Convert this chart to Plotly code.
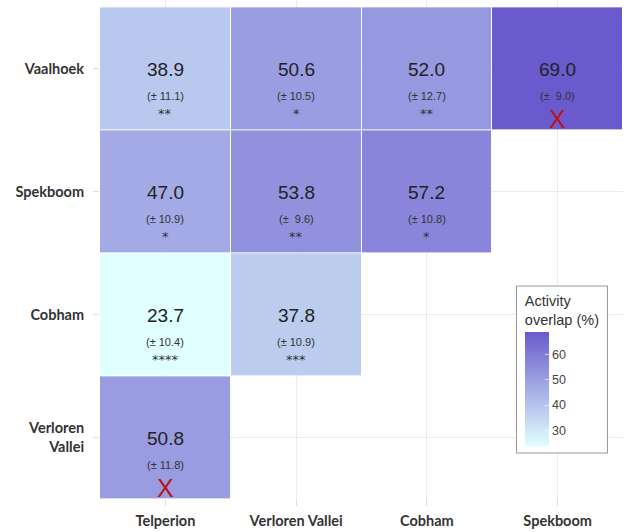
import plotly.graph_objects as go

# ---- data ----
x_labels = ["Telperion", "Verloren Vallei", "Cobham", "Spekboom"]
y_labels = ["Vaalhoek", "Spekboom", "Cobham", "Verloren<br>Vallei"]

# overlap (%) per row (y) and column (x); None = no comparison
overlap = [
    [38.9, 50.6, 52.0, 69.0],
    [47.0, 53.8, 57.2, None],
    [23.7, 37.8, None, None],
    [50.8, None, None, None],
]
sd = [
    [11.1, 10.5, 12.7, 9.0],
    [10.9, 9.6, 10.8, None],
    [10.4, 10.9, None, None],
    [11.8, None, None, None],
]
sig = [
    ["**", "*", "**", "X"],
    ["*", "**", "*", None],
    ["****", "***", None, None],
    ["X", None, None, None],
]

xs = list(range(len(x_labels)))
ys = list(range(len(y_labels)))

fig = go.Figure()
fig.add_trace(go.Heatmap(
    x=xs, y=ys, z=overlap,
    colorscale=[[0, "#E0FFFF"], [1, "#6A5ACD"]],
    zmin=23.7, zmax=69.0,
    xgap=1, ygap=1,
    hoverongaps=False,
    colorbar=dict(
        title=dict(text="Activity<br>overlap (%)", side="top",
                   font=dict(size=14.5, color="#333", family="Liberation Sans")),
        x=0.797, xanchor="left", y=0.094, yanchor="bottom",
        len=166, lenmode="pixels",
        thickness=24, thicknessmode="pixels",
        tickvals=[30, 40, 50, 60],
        ticks="inside", ticklen=4, tickcolor="rgba(255,255,255,0.7)",
        tickfont=dict(size=12.5, color="#444", family="Liberation Sans"),
        outlinewidth=0,
        bgcolor="white", bordercolor="#999", borderwidth=1,
        xpad=8, ypad=6,
    ),
))

annotations = []
for i, row in enumerate(overlap):
    for j, v in enumerate(row):
        if v is None:
            continue
        annotations.append(dict(x=xs[j], y=ys[i], xref="x", yref="y",
                                text=f"{v:.1f}", showarrow=False, yshift=-1,
                                font=dict(size=19, color="#222", family="Liberation Sans")))
        annotations.append(dict(x=xs[j], y=ys[i], xref="x", yref="y",
                                text=f"(± {sd[i][j]:4.1f})", showarrow=False,
                                yshift=-27,
                                font=dict(size=11, color="#333", family="Liberation Sans")))
        s = sig[i][j]
        if s == "X":
            annotations.append(dict(x=xs[j], y=ys[i], xref="x", yref="y",
                                    text="X", showarrow=False, yshift=-50,
                                    font=dict(size=25, color="#B8141A", family="Liberation Sans")))
        elif s:
            annotations.append(dict(x=xs[j], y=ys[i], xref="x", yref="y",
                                    text=s, showarrow=False, yshift=-45,
                                    font=dict(size=13, color="#333", family="DejaVu Sans")))

fig.update_layout(
    width=627, height=532,
    margin=dict(l=100, r=4, t=0, b=33),
    paper_bgcolor="white", plot_bgcolor="white",
    annotations=annotations,
    showlegend=False,
)
fig.update_xaxes(
    tickvals=xs, ticktext=x_labels, range=[-0.5, 3.5],
    showgrid=True, gridcolor="#EBEBEB", gridwidth=1, zeroline=False,
    ticks="outside", ticklen=6, tickcolor="#DDDDDD", ticklabelstandoff=3,
    tickfont=dict(size=14.5, color="#333", family="Lato", weight="bold"),
)
fig.update_yaxes(
    tickvals=ys, ticktext=y_labels, range=[3.5, -0.56],
    showgrid=True, gridcolor="#EBEBEB", gridwidth=1, zeroline=False,
    ticks="outside", ticklen=6, tickcolor="#DDDDDD", ticklabelstandoff=6,
    tickfont=dict(size=14.5, color="#333", family="Lato", weight="bold"),
)

fig.write_html("out.html", config={"displayModeBar": False},
               post_script="document.body.style.margin='0';document.body.style.overflow='hidden';")
